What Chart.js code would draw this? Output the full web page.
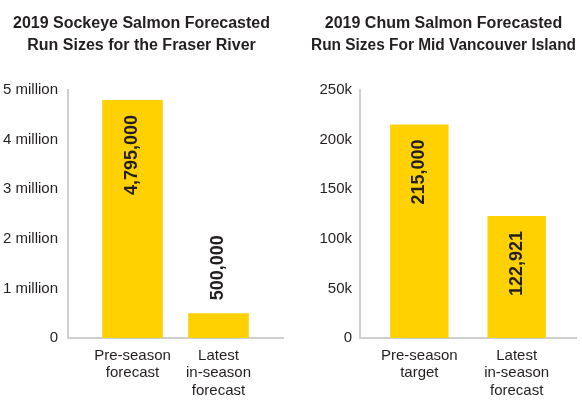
<!DOCTYPE html>
<html>
<head>
<meta charset="utf-8">
<script src="https://cdn.jsdelivr.net/npm/chart.js@4/dist/chart.umd.min.js"></script>
<style>
    body { margin: 0; background: #fff; }
    .wrap { position: relative; width: 582px; height: 406px; }
    canvas { position: absolute; top: 0; }
    #sockeyeChart { left: 0; }
    #chumChart { left: 311px; }
</style>
</head>
<body>
<div class="wrap">
    <canvas id="sockeyeChart" width="285" height="406"></canvas>
    <canvas id="chumChart" width="271" height="406"></canvas>
</div>
<script>
// Sockeye (Fraser River)
const sockeyeTitle = ['2019 Sockeye Salmon Forecasted', 'Run Sizes for the Fraser River'];
const sockeyeCategories = [['Pre-season', 'forecast'], ['Latest', 'in-season', 'forecast']];
const sockeyeValues = [4795000, 500000];
const sockeyeTickLabels = ['0', '1 million', '2 million', '3 million', '4 million', '5 million'];

// Chum (Mid Vancouver Island)
const chumTitle = ['2019 Chum Salmon Forecasted', 'Run Sizes For Mid Vancouver Island'];
const chumCategories = [['Pre-season', 'target'], ['Latest', 'in-season', 'forecast']];
const chumValues = [215000, 122921];
const chumTickLabels = ['0', '50k', '100k', '150k', '200k', '250k'];

const barColor = '#ffd100';
const textColor = '#231f20';
const axisColor = '#cfcfcf';
const sansFont = "'Liberation Sans', Arial, sans-serif";

// category axis with extra space on both sides of the bars
class PaddedCategoryScale extends Chart.CategoryScale {
    buildTicks() {
        const ticks = super.buildTicks();
        const pad = this.options.sidePadding || 0;
        this._startValue -= pad;
        this._valueRange += pad * 2;
        return ticks;
    }
}
PaddedCategoryScale.id = 'paddedCategory';
PaddedCategoryScale.defaults = Chart.CategoryScale.defaults;
Chart.register(PaddedCategoryScale);

// rotated value labels, inside the bar when they fit, above it otherwise
const valueLabels = {
    id: 'valueLabels',
    afterDatasetsDraw(chart) {
        const ctx = chart.ctx;
        const meta = chart.getDatasetMeta(0);
        const data = chart.data.datasets[0].data;
        ctx.save();
        ctx.font = "bold 18px " + sansFont;
        ctx.fillStyle = textColor;
        ctx.textBaseline = 'middle';
        meta.data.forEach((bar, i) => {
            const text = data[i].toLocaleString('en-US');
            const w = ctx.measureText(text).width;
            const h = bar.base - bar.y;
            ctx.save();
            if (w + 30 < h) {
                ctx.translate(bar.x, bar.y + 15);
                ctx.rotate(-Math.PI / 2);
                ctx.textAlign = 'right';
            } else {
                ctx.translate(bar.x, bar.y - 13);
                ctx.rotate(-Math.PI / 2);
                ctx.textAlign = 'left';
            }
            ctx.fillText(text, 0, 0);
            ctx.restore();
        });
        ctx.restore();
    }
};

function makeChart(el, title, categories, values, tickLabels, max, step, opts) {
    return new Chart(el, {
        type: 'bar',
        data: {
            labels: categories,
            datasets: [{
                data: values,
                backgroundColor: barColor,
                categoryPercentage: 1,
                barPercentage: opts.barPercentage
            }]
        },
        options: {
            responsive: false,
            animation: false,
            layout: { padding: { left: 0, right: opts.padRight, bottom: 0 } },
            plugins: {
                legend: { display: false },
                tooltip: { enabled: false },
                title: {
                    display: true,
                    text: title,
                    color: textColor,
                    font: { family: sansFont, size: 16, weight: 'bold', lineHeight: 1.4 },
                    padding: { top: 12, bottom: 33 }
                }
            },
            scales: {
                x: {
                    type: 'paddedCategory',
                    sidePadding: opts.sidePadding,
                    grid: { display: false, drawTicks: false },
                    border: { color: axisColor, width: 2 },
                    ticks: {
                        color: textColor,
                        padding: 9,
                        maxRotation: 0,
                        font: { family: sansFont, size: 15, lineHeight: 1.17 }
                    },
                    afterFit(scale) {
                        scale.height = 68;
                        scale.paddingLeft = 0;
                        scale.paddingRight = 0;
                    }
                },
                y: {
                    min: 0,
                    max: max,
                    grid: { display: false, drawTicks: false },
                    border: { color: axisColor, width: 2 },
                    ticks: {
                        stepSize: step,
                        color: textColor,
                        padding: opts.tickPad,
                        font: { family: sansFont, size: 15 },
                        callback: (value, index) => tickLabels[index]
                    },
                    afterFit(scale) {
                        scale.width = opts.axisLeft;
                    }
                }
            }
        },
        plugins: [valueLabels]
    });
}

document.addEventListener('DOMContentLoaded', function() {
    makeChart(document.getElementById('sockeyeChart'), sockeyeTitle, sockeyeCategories,
        sockeyeValues, sockeyeTickLabels, 5000000, 1000000,
        { barPercentage: 0.705, sidePadding: 0.25, axisLeft: 68, padRight: 2, tickPad: 10 });
    makeChart(document.getElementById('chumChart'), chumTitle, chumCategories,
        chumValues, chumTickLabels, 250000, 50000,
        { barPercentage: 0.6, sidePadding: 0.11, axisLeft: 49, padRight: 6, tickPad: 8 });
});
</script>
</body>
</html>
